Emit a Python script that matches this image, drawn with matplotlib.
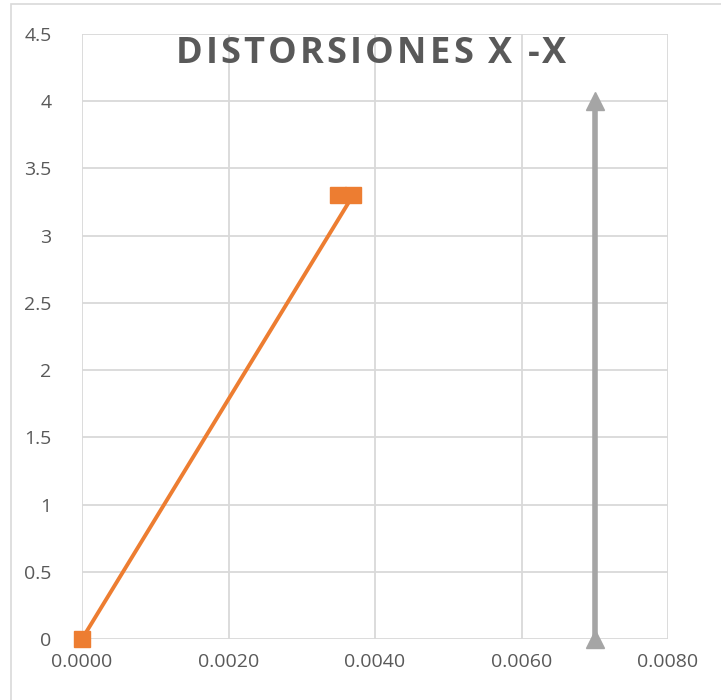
import matplotlib.pyplot as plt
from matplotlib.patches import Rectangle

# drift (x) vs level (y)
drift_x = [0.0, 0.0037, 0.0035]
level_y = [0.0, 3.3, 3.3]

# allowable drift limit
limit_x = [0.007, 0.007]
limit_y = [0.0, 4.0]

x_ticks = [0.0, 0.002, 0.004, 0.006, 0.008]
y_ticks = [0, 0.5, 1, 1.5, 2, 2.5, 3, 3.5, 4, 4.5]
y_labels = ["0", "0.5", "1", "1.5", "2", "2.5", "3", "3.5", "4", "4.5"]

title = "DISTORSIONES X -X"

plt.rcParams["font.family"] = ["Open Sans", "DejaVu Sans"]

fig = plt.figure(figsize=(7.21, 7.00), dpi=100)
ax = fig.add_axes([82 / 721, 1 - 639 / 700, 586 / 721, 605 / 700])

# chart area border
fig.patches.append(Rectangle((11 / 721, -0.1), 1.2, 1 - 4 / 700 + 0.1,
                             transform=fig.transFigure, fill=False,
                             edgecolor="#d9d9d9", linewidth=1.2))

ax.plot(limit_x, limit_y, color="#a5a5a5", linewidth=4, marker="^",
        markersize=13, clip_on=False, zorder=3)
ax.plot(drift_x, level_y, color="#ed7d31", linewidth=2.8, marker="s",
        markersize=12, clip_on=False, zorder=4)

ax.set_xlim(0, 0.008)
ax.set_ylim(0, 4.5)
ax.set_xticks(x_ticks)
ax.set_xticklabels(["%.4f" % v for v in x_ticks])
ax.set_yticks(y_ticks)
ax.set_yticklabels(y_labels)
ax.tick_params(axis="both", length=0, labelsize=14, colors="#595959")
ax.tick_params(axis="y", pad=22)
ax.tick_params(axis="x", pad=10)
ax.grid(True, color="#d9d9d9", linewidth=1.3)
ax.set_axisbelow(True)
for s in ax.spines.values():
    s.set_visible(False)

# letter-spaced title, placed one character at a time
renderer = fig.canvas.get_renderer()
tracking = 3.2  # extra pixels between letters
props = dict(fontsize=26, fontweight="bold", color="#595959", va="center")
widths = []
for ch in title:
    t = fig.text(0, 0, ch if ch != " " else "-", **props)
    w = t.get_window_extent(renderer).width
    if ch == " ":
        w *= 0.75
    widths.append(w)
    t.remove()
total = sum(widths) + tracking * (len(title) - 1)
x = 371 - total / 2
y = 1 - 54 / 700
for ch, w in zip(title, widths):
    if ch != " ":
        fig.text(x / 721, y, ch, ha="left", **props)
    x += w + tracking

fig.savefig("out.png", dpi=100)
